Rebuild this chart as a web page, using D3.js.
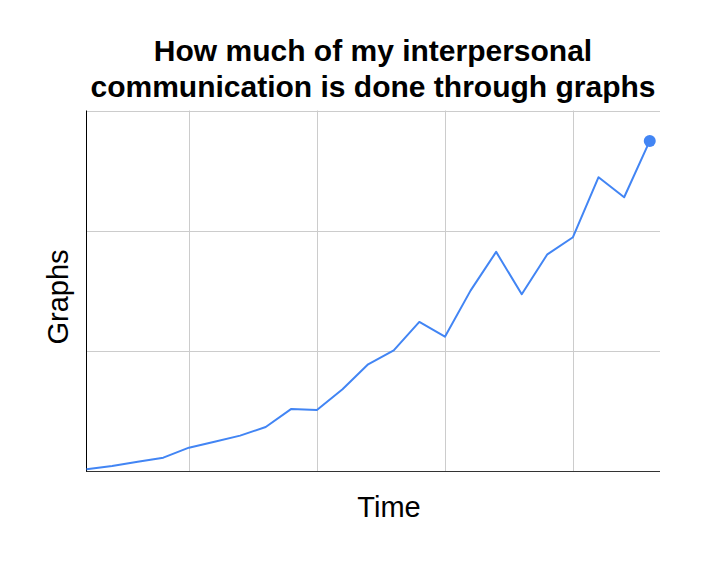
<!DOCTYPE html>
<html>
<head>
<meta charset="utf-8">
<script src="https://cdn.jsdelivr.net/npm/d3@7"></script>
<style>
  html, body { margin: 0; padding: 0; background: #fff; }
  svg { display: block; }
  text { font-family: "Liberation Sans", Arial, sans-serif; fill: #000; }
</style>
</head>
<body>
<svg id="chart" width="707" height="563"></svg>
<script>
const titleLines = ["How much of my interpersonal", "communication is done through graphs"];
const xLabel = "Time";
const yLabel = "Graphs";
const timeSteps = d3.range(1, 24);
const graphsValues = [0.018, 0.046, 0.081, 0.115, 0.198, 0.248, 0.298, 0.37, 0.52, 0.511,
  0.683, 0.891, 1.007, 1.243, 1.12, 1.503, 1.825, 1.473, 1.805, 1.947, 2.446, 2.279, 2.747];
const xTicks = [5, 10, 15, 20];
const yTicks = [1, 2, 3];

const svg = d3.select("#chart");
const plotLeft = 86.5, plotRight = 660, plotTop = 110.5, plotBottom = 471.5;

const x = d3.scaleLinear().domain([1, 23.4]).range([plotLeft, plotRight]);
const y = d3.scaleLinear().domain([0, 3]).range([plotBottom, plotTop]);

const data = timeSteps.map((t, i) => ({ t, v: graphsValues[i] }));

// gridlines
svg.append("g").selectAll("line").data(xTicks).join("line")
  .attr("x1", d => Math.round(x(d)) + 0.5).attr("x2", d => Math.round(x(d)) + 0.5)
  .attr("y1", plotTop).attr("y2", plotBottom)
  .attr("stroke", "#cccccc").attr("stroke-width", 1);
svg.append("g").selectAll("line").data(yTicks).join("line")
  .attr("x1", plotLeft).attr("x2", plotRight)
  .attr("y1", d => Math.round(y(d)) + 0.5).attr("y2", d => Math.round(y(d)) + 0.5)
  .attr("stroke", "#cccccc").attr("stroke-width", 1);

// axes lines
svg.append("line").attr("x1", plotLeft).attr("x2", plotLeft).attr("y1", plotTop).attr("y2", plotBottom + 0.5)
  .attr("stroke", "#000").attr("stroke-width", 1);
svg.append("line").attr("x1", plotLeft).attr("x2", plotRight).attr("y1", plotBottom).attr("y2", plotBottom)
  .attr("stroke", "#333").attr("stroke-width", 1);

// line
const line = d3.line().x(d => x(d.t)).y(d => y(d.v));
svg.append("path").datum(data).attr("d", line)
  .attr("fill", "none").attr("stroke", "#4285f4").attr("stroke-width", 2)
  .attr("stroke-linejoin", "round");

// last point
const last = data[data.length - 1];
svg.append("circle").attr("cx", x(last.t)).attr("cy", y(last.v)).attr("r", 6)
  .attr("fill", "#4285f4");

// title
svg.append("g").selectAll("text").data(titleLines).join("text")
  .attr("x", 373).attr("y", (d, i) => 61 + i * 36)
  .attr("text-anchor", "middle")
  .style("font-size", "30px").style("font-weight", "bold")
  .text(d => d);

// axis titles
svg.append("text").attr("x", 389).attr("y", 517)
  .attr("text-anchor", "middle").style("font-size", "29px").text(xLabel);
svg.append("text").attr("transform", "translate(68,297) rotate(-90)")
  .attr("text-anchor", "middle").style("font-size", "29px").text(yLabel);
</script>
</body>
</html>
